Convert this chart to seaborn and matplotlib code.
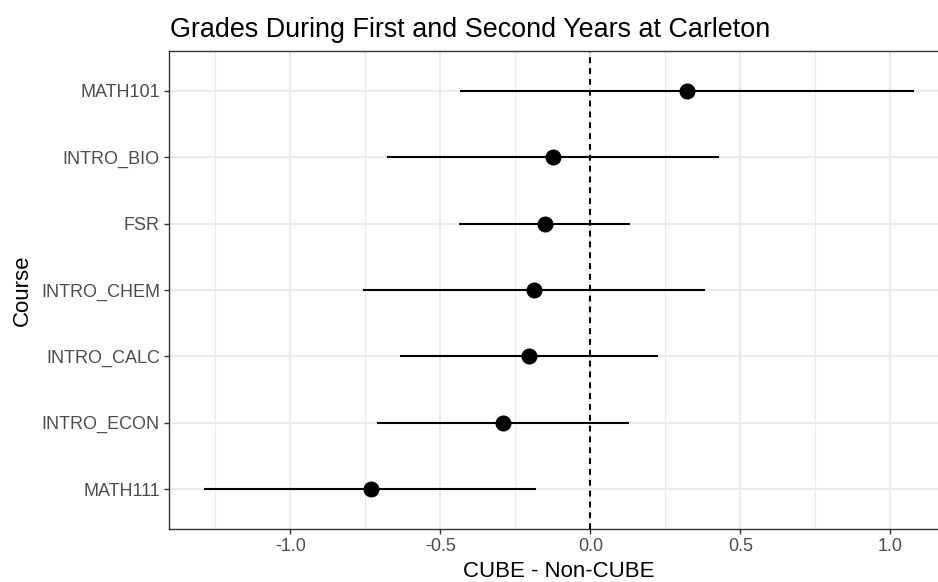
import matplotlib
matplotlib.use("Agg")
import matplotlib.pyplot as plt
import seaborn as sns
import pandas as pd
from matplotlib.ticker import MultipleLocator

# values (CUBE minus Non-CUBE grade difference)
courses = ["MATH101", "INTRO_BIO", "FSR", "INTRO_CHEM", "INTRO_CALC", "INTRO_ECON", "MATH111"]
estimate = [0.322, -0.126, -0.152, -0.189, -0.206, -0.292, -0.733]
lower = [-0.433, -0.679, -0.437, -0.759, -0.634, -0.711, -1.287]
upper = [1.078, 0.430, 0.133, 0.381, 0.226, 0.128, -0.181]

df = pd.DataFrame({"course": courses, "diff": estimate, "lo": lower, "hi": upper})

sns.set_theme(style="white")
plt.rcParams["font.family"] = ["Liberation Sans", "DejaVu Sans"]

fig = plt.figure(figsize=(9.38, 5.82), dpi=100)
# panel runs a little past the right edge, like the cropped reference
ax = fig.add_axes([169 / 938, 1 - 529 / 582, (949 - 169) / 938, (529 - 51) / 582])

sns.pointplot(data=df, x="diff", y="course", order=courses, color="black",
              linestyle="none", errorbar=None, markersize=9.5, ax=ax, zorder=4)

# confidence intervals, no caps
ax.hlines(y=range(len(df)), xmin=df["lo"], xmax=df["hi"], color="black",
          linewidth=1.5, zorder=3)
ax.axvline(0, color="black", linestyle=(0, (2.8, 2.4)), linewidth=1.5, zorder=2)

ax.set_xlim(-1.405, 1.196)
ax.set_ylim(len(courses) - 1 + 0.6, -0.6)
ax.xaxis.set_major_locator(MultipleLocator(0.5))
ax.xaxis.set_minor_locator(MultipleLocator(0.25))
ax.xaxis.set_major_formatter(matplotlib.ticker.FormatStrFormatter("%.1f"))

# theme_bw style grid (set after pointplot, which turns the category grid off)
ax.set_axisbelow(True)
ax.grid(True, which="major", axis="both", color="#EBEBEB", linewidth=1.5)
ax.grid(True, which="minor", axis="x", color="#EBEBEB", linewidth=0.8)

for side, sp in ax.spines.items():
    sp.set_color("#333333")
    sp.set_linewidth(1.0)
    sp.set_visible(True)

ax.tick_params(axis="both", which="major", length=3.5, width=1.0, color="#333333",
               labelcolor="#4D4D4D", labelsize=13, pad=3, left=True, bottom=True)
ax.tick_params(axis="x", which="minor", length=0)

ax.set_xlabel("CUBE - Non-CUBE", fontsize=16, color="black", labelpad=4)
ax.set_ylabel("Course", fontsize=16, color="black", labelpad=6)

fig.text(170 / 938, 1 - 37 / 582, "Grades During First and Second Years at Carleton",
         fontsize=19.4, color="black", ha="left", va="baseline")

fig.savefig("out.png", dpi=100)
